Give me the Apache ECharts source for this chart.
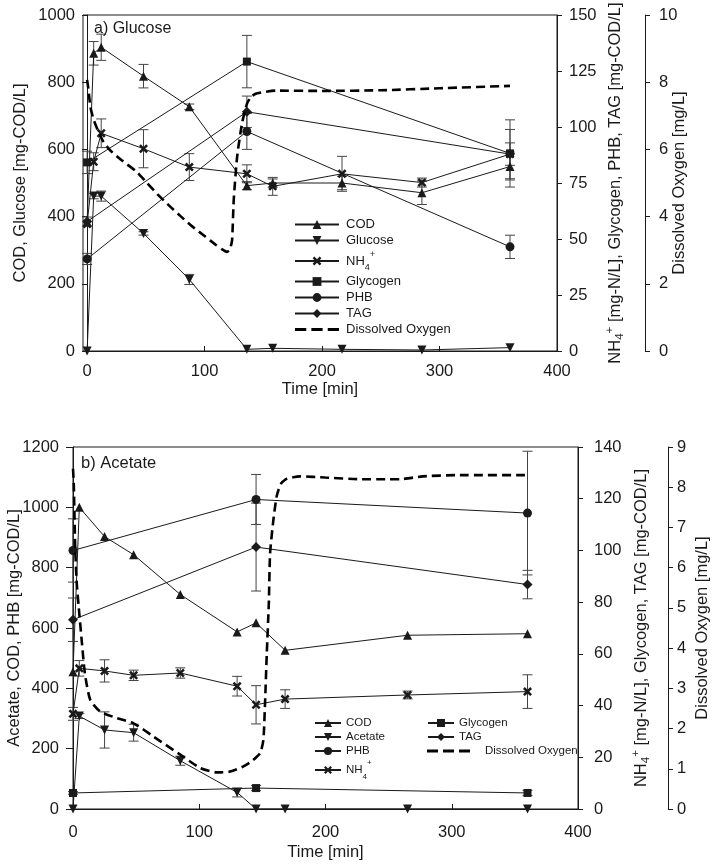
<!DOCTYPE html>
<html><head><meta charset="utf-8">
<script src="https://cdn.jsdelivr.net/npm/echarts@6/dist/echarts.min.js"></script>
<style>html,body{margin:0;padding:0;background:#fff}#c{width:716px;height:864px}</style>
</head><body><div id="c"></div>
<script>
// ---------- Panel a) Glucose ----------
const timeA = [0, 5.6, 12, 48, 87, 136, 158, 217, 285, 360];
const codA = [385, 886, 904, 818, 727, 492, 500, 500, 471, 549];
const codAErr = [0, 35, 39, 35, 8, 12, 12, 20, 35, 40];
const glucoseA = [0, 461, 461, 350, 213, 5, 8, 5, 3, 10];
const glucoseAErr = [0, 8, 15, 5, 15, 0, 0, 0, 0, 0];
const nh4A = [56.7, 84.5, 97.2, 90.3, 82.1, 79.1, 73.5, 79.1, 75.2, 87.9];
const nh4AErr = [0, 4, 6.4, 8.5, 6, 4, 4, 7.8, 2, 5];
const timeA3 = [0, 136, 360];
const glycogenA = [84.2, 129.2, 88.2];
const glycogenAErr = [5, 11.7, 15];
const phbA = [41.1, 98, 46.5];
const phbAErr = [2.5, 8, 5.2];
const tagA = [57.8, 106.8, 87.9];
const tagAErr = [2, 7, 11];
const doATime = [0, 1, 2.8, 5, 7, 10, 14, 20, 30, 42, 51, 60, 71, 80, 88, 100, 110, 116, 119, 121.5, 123.4, 124.8, 127.7, 131.9, 136.2, 140, 144.7, 161, 200, 250, 300, 360];
const doAVal = [8.07, 7.82, 7.27, 6.95, 6.75, 6.5, 6.22, 5.96, 5.66, 5.34, 5.0, 4.66, 4.29, 4.0, 3.75, 3.42, 3.15, 3.0, 2.95, 3.02, 3.3, 4.49, 5.78, 6.78, 7.37, 7.58, 7.67, 7.75, 7.74, 7.76, 7.82, 7.89];

// ---------- Panel b) Acetate ----------
const timeB = [0, 5, 25, 48, 85, 130, 145, 168, 265, 360];
const codB = [455, 1000, 903, 843, 711, 587, 617, 526, 576, 581];
const acetateB = [0, 308, 262, 253, 160, 55, 0, 0, 0, 0];
const acetateBErr = [0, 8, 60, 28, 15, 15, 0, 0, 0, 0];
const nh4B = [36.8, 54.4, 53.4, 51.7, 52.6, 47.5, 40.3, 42.5, 44.1, 45.4];
const nh4BErr = [2.5, 3, 4.3, 2, 2, 3.8, 7.4, 3.6, 1.5, 6.5];
const timeB3 = [0, 145, 360];
const phbB = [857, 1026, 981];
const phbBErr = [105, 83, 205];
const glycogenB = [6.2, 8.1, 6.2];
const glycogenBErr = [0.5, 1, 1];
const tagB = [73.2, 101.3, 86.8];
const tagBErr = [8.4, 17, 5.5];
const doBTime = [0, 0.6, 1.8, 3, 4.5, 7.1, 9.5, 13.7, 21.6, 34.8, 48, 63.8, 85, 100.8, 114, 124.5, 135, 142, 148.2, 150.8, 152.1, 153.5, 155.1, 156.1, 158.7, 161.5, 165, 169.4, 180, 199.7, 227, 248, 259, 277, 304, 360];
const doBVal = [8.46, 8.1, 6.43, 5.6, 5.03, 4.12, 3.35, 2.71, 2.42, 2.26, 2.13, 1.8, 1.35, 1.02, 0.91, 0.93, 1.06, 1.2, 1.39, 1.72, 2.63, 3.87, 5.11, 6.35, 7.18, 7.8, 8.1, 8.21, 8.27, 8.24, 8.2, 8.2, 8.2, 8.27, 8.3, 8.3];

const xTicks = [0, 100, 200, 300, 400];

// ---------- styling helpers ----------
const FONT = 'Liberation Sans, Arial, sans-serif';
const INK = '#1a1a1a';
const XSYM = 'path://M2,0 L5,3 L8,0 L10,2 L7,5 L10,8 L8,10 L5,7 L2,10 L0,8 L3,5 L0,2 Z';
const DASHICON = 'path://M0,0 h11 v3 h-11 Z M16,0 h11 v3 h-11 Z M32,0 h11 v3 h-11 Z';
const zip = (a, b) => a.map((v, i) => [v, b[i]]);
const plain = v => String(v);

function line(name, xs, ys, xi, yi, symbol, rotate, size) {
  return {
    name, type: 'line', xAxisIndex: xi, yAxisIndex: yi,
    data: zip(xs, ys), symbol, symbolSize: size || 9, symbolRotate: rotate || 0,
    showAllSymbol: true, z: 5,
    lineStyle: { color: INK, width: 1 }, itemStyle: { color: INK },
    emphasis: { disabled: true }, animation: false
  };
}
function errBars(xs, ys, errs, xi, yi) {
  const d = [];
  xs.forEach((x, i) => { if (errs[i] > 0) d.push([x, ys[i] - errs[i], ys[i] + errs[i]]); });
  return {
    type: 'custom', xAxisIndex: xi, yAxisIndex: yi, data: d, z: 3, silent: true, animation: false,
    clip: false,
    encode: { x: 0, y: [1, 2] },
    renderItem: function (params, api) {
      const lo = api.coord([api.value(0), api.value(1)]);
      const hi = api.coord([api.value(0), api.value(2)]);
      const w = 5;
      const st = { stroke: '#444', lineWidth: 1, fill: null };
      return {
        type: 'group', children: [
          { type: 'line', shape: { x1: lo[0], y1: lo[1], x2: hi[0], y2: hi[1] }, style: st },
          { type: 'line', shape: { x1: lo[0] - w, y1: lo[1], x2: lo[0] + w, y2: lo[1] }, style: st },
          { type: 'line', shape: { x1: hi[0] - w, y1: hi[1], x2: hi[0] + w, y2: hi[1] }, style: st }
        ]
      };
    }
  };
}
function doLine(name, xs, ys, xi, yi) {
  return {
    name, type: 'line', xAxisIndex: xi, yAxisIndex: yi, data: zip(xs, ys),
    symbol: 'none', smooth: 0.2, z: 6,
    lineStyle: { color: '#000', width: 2.6, type: [9, 5] }, itemStyle: { color: '#000' },
    emphasis: { disabled: true }, animation: false
  };
}

const richName = (fs) => ({
  n: { fontSize: fs, fontFamily: FONT, color: INK, verticalAlign: 'middle', lineHeight: 22 },
  sb: { fontSize: fs * 0.7, fontFamily: FONT, color: INK, verticalAlign: 'bottom', lineHeight: 12 },
  sp: { fontSize: fs * 0.7, fontFamily: FONT, color: INK, verticalAlign: 'top', lineHeight: 12 }
});

function yAx(o) {
  return Object.assign({
    type: 'value', nameLocation: 'middle', nameRotate: 90, nameMoveOverlap: false,
    nameTextStyle: { fontSize: 16.5, fontFamily: FONT, color: INK, rich: richName(16.5) },
    axisLine: { show: true, lineStyle: { color: INK, width: 1 } },
    axisTick: { show: true, inside: false, length: 5, lineStyle: { color: INK } },
    splitLine: { show: false }
  }, o);
}
const lab = m => ({ fontSize: 16.5, fontFamily: FONT, color: INK, margin: m, formatter: plain });

const option = {
  backgroundColor: '#fff',
  animation: false,
  textStyle: { fontFamily: FONT },
  title: [
    { text: 'a) Glucose', left: 89, top: 16, textStyle: { fontSize: 16, fontWeight: 'normal', fontFamily: FONT, color: INK } },
    { text: 'b) Acetate', left: 76, top: 450, textStyle: { fontSize: 16.5, fontWeight: 'normal', fontFamily: FONT, color: INK } }
  ],
  grid: [
    { left: 83, top: 15, width: 474, height: 336, show: true, borderColor: INK, borderWidth: 1, backgroundColor: 'transparent', containLabel: false, outerBoundsMode: 'none' },
    { left: 73, top: 447, width: 505, height: 362, show: true, borderColor: INK, borderWidth: 1, backgroundColor: 'transparent', containLabel: false, outerBoundsMode: 'none' }
  ],
  xAxis: [
    {
      type: 'value', gridIndex: 0, min: -3.5, max: 400,
      name: 'Time [min]', nameLocation: 'middle', nameGap: 30, nameMoveOverlap: false,
      nameTextStyle: { fontSize: 16.5, fontFamily: FONT, color: INK },
      axisLine: { lineStyle: { color: INK } },
      axisTick: { inside: true, length: 5, customValues: xTicks, lineStyle: { color: INK } },
      axisLabel: { customValues: xTicks, fontSize: 16.5, fontFamily: FONT, color: INK, margin: 12, formatter: plain },
      splitLine: { show: false }
    },
    {
      type: 'value', gridIndex: 1, min: 0, max: 400, interval: 100,
      name: 'Time [min]', nameLocation: 'middle', nameGap: 35, nameMoveOverlap: false,
      nameTextStyle: { fontSize: 16.5, fontFamily: FONT, color: INK },
      axisLine: { lineStyle: { color: INK } },
      axisTick: { inside: true, length: 5, lineStyle: { color: INK } },
      axisLabel: { fontSize: 16.5, fontFamily: FONT, color: INK, margin: 15, formatter: plain },
      splitLine: { show: false }
    }
  ],
  yAxis: [
    yAx({ gridIndex: 0, position: 'left', min: 0, max: 1000, interval: 200,
      name: 'COD, Glucose [mg-COD/L]', nameGap: 54, axisLabel: lab(8) }),
    yAx({ gridIndex: 0, position: 'right', min: 0, max: 150, interval: 25,
      name: '{n|NH}{sb|4}{sp|+}{n| [mg-N/L], Glycogen, PHB, TAG [mg-COD/L]}', nameGap: 47,
      axisLabel: lab(12) }),
    yAx({ gridIndex: 0, position: 'right', offset: 88, min: 0, max: 10, interval: 2,
      name: 'Dissolved Oxygen [mg/L]', nameGap: 26, axisLabel: lab(14) }),
    yAx({ gridIndex: 1, position: 'left', min: 0, max: 1200, interval: 200,
      name: 'Acetate, COD, PHB [mg-COD/L]', nameGap: 50, axisTick: { show: true, length: 7, lineStyle: { color: INK } },
      axisLabel: lab(14) }),
    yAx({ gridIndex: 1, position: 'right', min: 0, max: 140, interval: 20,
      name: '{n|NH}{sb|4}{sp|+}{n| [mg-N/L], Glycogen, TAG [mg-COD/L]}', nameGap: 52,
      axisLabel: lab(16) }),
    yAx({ gridIndex: 1, position: 'right', offset: 90, min: 0, max: 9, interval: 1,
      name: 'Dissolved Oxygen [mg/L]', nameGap: 26, axisLabel: lab(9) })
  ],
  legend: [
    {
      orient: 'vertical', left: 289, top: 213, itemWidth: 44, itemHeight: 11, itemGap: 3,
      data: ['COD', 'Glucose', 'NH4+', 'Glycogen', 'PHB', 'TAG', { name: 'Dissolved Oxygen', icon: DASHICON }],
      selectedMode: false,
      textStyle: { fontSize: 13, fontFamily: FONT, color: INK, padding: [0, 0, 0, 2], rich: richName(13) },
      formatter: n => n === 'NH4+' ? '{n|NH}{sb|4}{sp|+}' : n
    },
    {
      orient: 'vertical', left: 309, top: 712, itemWidth: 26, itemHeight: 10, itemGap: 2,
      data: ['COD', 'Acetate', 'PHB', 'NH4+'],
      selectedMode: false,
      textStyle: { fontSize: 11.5, fontFamily: FONT, color: INK, rich: richName(11.5) },
      formatter: n => n === 'NH4+' ? '{n|NH}{sb|4}{sp|+}' : n
    },
    {
      orient: 'vertical', left: 422, top: 712, itemWidth: 26, itemHeight: 10, itemGap: 2,
      data: ['Glycogen', 'TAG'],
      selectedMode: false,
      textStyle: { fontSize: 11.5, fontFamily: FONT, color: INK }
    },
    {
      orient: 'vertical', left: 422, top: 740, itemWidth: 43, itemHeight: 10, itemGap: 2,
      data: [{ name: 'Dissolved Oxygen', icon: DASHICON }],
      selectedMode: false,
      textStyle: { fontSize: 11.5, fontFamily: FONT, color: INK, padding: [0, 0, 0, 10] }
    }
  ],
  series: [
    // panel a
    errBars(timeA, codA, codAErr, 0, 0),
    errBars(timeA, glucoseA, glucoseAErr, 0, 0),
    errBars(timeA, nh4A, nh4AErr, 0, 1),
    errBars(timeA3, glycogenA, glycogenAErr, 0, 1),
    errBars(timeA3, phbA, phbAErr, 0, 1),
    errBars(timeA3, tagA, tagAErr, 0, 1),
    line('COD', timeA, codA, 0, 0, 'triangle'),
    line('Glucose', timeA, glucoseA, 0, 0, 'triangle', 180),
    line('NH4+', timeA, nh4A, 0, 1, XSYM, 0, 9),
    line('Glycogen', timeA3, glycogenA, 0, 1, 'rect', 0, 8),
    line('PHB', timeA3, phbA, 0, 1, 'circle'),
    line('TAG', timeA3, tagA, 0, 1, 'diamond', 0, 10),
    doLine('Dissolved Oxygen', doATime, doAVal, 0, 2),
    // panel b
    errBars(timeB, acetateB, acetateBErr, 1, 3),
    errBars(timeB3, phbB, phbBErr, 1, 3),
    errBars(timeB, nh4B, nh4BErr, 1, 4),
    errBars(timeB3, glycogenB, glycogenBErr, 1, 4),
    errBars(timeB3, tagB, tagBErr, 1, 4),
    line('COD', timeB, codB, 1, 3, 'triangle'),
    line('Acetate', timeB, acetateB, 1, 3, 'triangle', 180),
    line('PHB', timeB3, phbB, 1, 3, 'circle'),
    line('NH4+', timeB, nh4B, 1, 4, XSYM, 0, 9),
    line('Glycogen', timeB3, glycogenB, 1, 4, 'rect', 0, 8),
    line('TAG', timeB3, tagB, 1, 4, 'diamond', 0, 10),
    doLine('Dissolved Oxygen', doBTime, doBVal, 1, 5)
  ]
};
const chart = echarts.init(document.getElementById('c'), null, { renderer: 'canvas' });
chart.setOption(option);
</script></body></html>
